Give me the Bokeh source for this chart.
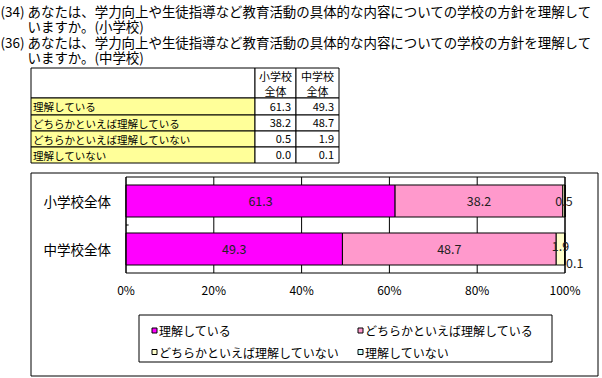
import numpy as np
from bokeh.plotting import figure
from bokeh.models import Range1d, ColumnDataSource
from bokeh.embed import file_html
from bokeh.resources import INLINE
from bokeh.core.properties import value

# ---------------- data ----------------
title_lines = [
    "(34) あなたは、学力向上や生徒指導など教育活動の具体的な内容についての学校の方針を理解して",
    "いますか。(小学校)",
    "(36) あなたは、学力向上や生徒指導など教育活動の具体的な内容についての学校の方針を理解して",
    "いますか。(中学校)",
]
categories = ["小学校全体", "中学校全体"]
table_headers = [["小学校", "全体"], ["中学校", "全体"]]
series_names = ["理解している", "どちらかといえば理解している",
                "どちらかといえば理解していない", "理解していない"]
elementary = [61.3, 38.2, 0.5, 0.0]
junior_high = [49.3, 48.7, 1.9, 0.1]
tick_values = [0, 20, 40, 60, 80, 100]
tick_labels = ["0%", "20%", "40%", "60%", "80%", "100%"]
colors = ["#FF00FF", "#FF99CC", "#FFFFCC", "#CCFFFF"]

FONT = value("Noto Sans CJK JP")
W, H = 602, 378

# page layout (pixels, y downwards)
PL, PR, PT, PB = 125.5, 564.5, 176.5, 272.5   # bar-chart plot area

p = figure(width=W, height=H, x_range=Range1d(0, W), y_range=Range1d(H, 0),
           output_backend="svg", toolbar_location=None, min_border=0,
           x_axis_location=None, y_axis_location=None)
p.outline_line_color = None
p.background_fill_color = "white"
p.border_fill_color = "white"
p.grid.visible = False

# scales of the bar chart: percent on x, category index on y
sx = (PR - PL) / 100.0
sy = (PB - PT) / len(categories)
p.extra_x_ranges = {"pct": Range1d(start=(0 - PL) / sx, end=(W - PL) / sx)}
p.extra_y_ranges = {"cat": Range1d(start=(H - PT) / sy, end=(0 - PT) / sy)}
CH = dict(x_range_name="pct", y_range_name="cat")

# ---------------- title ----------------
title_x = [0, 27, 0, 27]
title_y = [10, 25.5, 41, 56.5]
p.text(x=title_x, y=title_y, text=title_lines, text_font=FONT,
       text_font_size="13.45px", text_baseline="middle", text_align="left",
       text_color="black")

# ---------------- table ----------------
col_x = [30.5, 254.5, 295.5, 338.5]
row_y = [67.5, 97.5, 114.5, 130.5, 146.5, 162.5]
cl, cr, ct, cb, cf = [], [], [], [], []
def cell(l, r, t, b, f):
    cl.append(l); cr.append(r); ct.append(t); cb.append(b); cf.append(f)
cell(col_x[0], col_x[1], row_y[0], row_y[1], "white")
for j in range(len(table_headers)):
    cell(col_x[j + 1], col_x[j + 2], row_y[0], row_y[1], "white")
for r in range(len(series_names)):
    cell(col_x[0], col_x[1], row_y[r + 1], row_y[r + 2], "#FFFF99")
    for j in range(2):
        cell(col_x[j + 1], col_x[j + 2], row_y[r + 1], row_y[r + 2], "white")
p.quad(left=cl, right=cr, top=ct, bottom=cb, fill_color=cf, line_color="black", line_width=1)

hx, hy, ht = [], [], []
for j, hdr in enumerate(table_headers):
    cx = (col_x[j + 1] + col_x[j + 2]) / 2
    hx += [cx, cx]; hy += [75, 90]; ht += hdr
p.text(x=hx, y=hy, text=ht, text_font=FONT, text_font_size="11px",
       text_align="center", text_baseline="middle", text_color="black")

row_mid = [(row_y[r + 1] + row_y[r + 2]) / 2 for r in range(len(series_names))]
p.text(x=[col_x[0] + 2] * len(series_names), y=row_mid, text=series_names,
       text_font=FONT, text_font_size="10.5px", text_align="left",
       text_baseline="middle", text_color="black")
vx, vy, vt = [], [], []
for j, series in enumerate([elementary, junior_high]):
    for r, v in enumerate(series):
        vx.append(col_x[j + 2] - 5); vy.append(row_mid[r]); vt.append(f"{v:.1f}")
p.text(x=vx, y=vy, text=vt, text_font=FONT, text_font_size="11px",
       text_align="right", text_baseline="middle", text_color="black")

# ---------------- chart outer border ----------------
p.quad(left=[30.5], right=[597.5], top=[172.5], bottom=[375.5],
       fill_color=None, line_color="black", line_width=1)

# ---------------- bar chart ----------------
values = np.array([elementary, junior_high])
rights = np.cumsum(values, axis=1)
lefts = rights - values
ypos = np.arange(len(categories)) + 0.5

# vertical grid lines
p.segment(x0=tick_values, x1=tick_values, y0=[0] * len(tick_values),
          y1=[len(categories)] * len(tick_values), line_color="black", line_width=1, **CH)

for i, name in enumerate(series_names):
    src = ColumnDataSource(dict(y=ypos, left=lefts[:, i], right=rights[:, i]))
    p.hbar(y="y", left="left", right="right", height=0.667, source=src,
           fill_color=colors[i], line_color="black", line_width=1, **CH)

# plot-area frame
p.quad(left=[0], right=[100], top=[0], bottom=[len(categories)],
       fill_color=None, line_color="black", line_width=1, **CH)
# category separator tick
p.segment(x0=[0], x1=[0.6], y0=[1], y1=[1], line_color="black", line_width=1, **CH)

# axis tick labels
p.text(x=tick_values, y=[len(categories)] * len(tick_values), text=tick_labels,
       y_offset=16.5, text_font=FONT, text_font_size="12px", text_align="center",
       text_baseline="middle", text_color="black", **CH)
p.text(x=[0] * len(categories), y=ypos, text=categories, x_offset=-15,
       text_font=FONT, text_font_size="13.5px", text_align="right",
       text_baseline="middle", text_color="black", **CH)

# bar value labels
lab_x, lab_y, lab_t, lab_dx, lab_dy = [], [], [], [], []
special_offsets = {(1, 2): (0, -3), (1, 3): (10, 14)}
for c in range(len(categories)):
    for i in range(len(series_names)):
        v = values[c, i]
        if v <= 0:
            continue
        lab_x.append((lefts[c, i] + rights[c, i]) / 2)
        lab_y.append(ypos[c])
        lab_t.append(f"{v:.1f}")
        dx, dy = special_offsets.get((c, i), (0, 0))
        lab_dx.append(dx); lab_dy.append(dy)
p.text(x="x", y="y", text="t", x_offset="dx", y_offset="dy",
       source=ColumnDataSource(dict(x=lab_x, y=lab_y, t=lab_t, dx=lab_dx, dy=lab_dy)),
       text_align="center", text_baseline="middle", text_font=FONT,
       text_font_size="12.5px", text_color="#222222", **CH)

# ---------------- legend ----------------
p.quad(left=[138.5], right=[551.5], top=[314.5], bottom=[361.5],
       fill_color="white", line_color="black", line_width=1)
leg_col_x = [151.5, 357.5]
leg_row_y = [330, 351.5]
lx = [leg_col_x[i % 2] for i in range(len(series_names))]
ly = [leg_row_y[i // 2] for i in range(len(series_names))]
p.quad(left=lx, right=[x + 5 for x in lx], top=[y - 2.5 for y in ly],
       bottom=[y + 2.5 for y in ly], fill_color=colors, line_color="black", line_width=1)
p.text(x=[x + 7 for x in lx], y=ly, text=series_names, text_font=FONT,
       text_font_size="12px", text_align="left", text_baseline="middle", text_color="black")

open("out.html", "w").write(file_html(p, INLINE))
